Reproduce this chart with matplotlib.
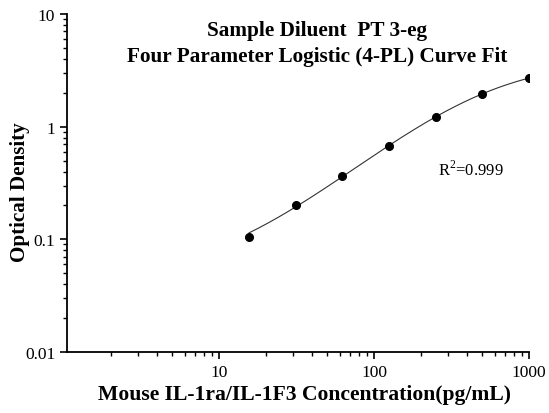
import numpy as np
import matplotlib
matplotlib.use("Agg")
import matplotlib.pyplot as plt
from matplotlib.ticker import LogLocator, FixedLocator, FixedFormatter, NullFormatter

conc = [15.625, 31.25, 62.5, 125, 250, 500, 1000]
od = [0.105, 0.203, 0.366, 0.675, 1.22, 1.96, 2.70]
title_lines = ["Sample Diluent  PT 3-eg", "Four Parameter Logistic (4-PL) Curve Fit"]
r2_text = "R$^2$=0.999"
xlabel = "Mouse IL-1ra/IL-1F3 Concentration(pg/mL)"
ylabel = "Optical Density"

x = np.array(conc, float)
y = np.array(od, float)

def f4(p, xx):
    a, b, c, d = p
    return d + (a - d) / (1.0 + (xx / c) ** b)

# Levenberg-Marquardt fit of the 4PL model to the data points
p = np.array([0.02, 1.0, 400.0, 5.0])
lam = 1e-3
for _ in range(500):
    r = y - f4(p, x)
    J = np.zeros((len(x), 4))
    for k in range(4):
        dp = np.zeros(4); dp[k] = 1e-6 * max(abs(p[k]), 1e-3)
        J[:, k] = (f4(p + dp, x) - f4(p, x)) / dp[k]
    A = J.T @ J
    g = J.T @ r
    step = np.linalg.solve(A + lam * np.diag(np.diag(A)), g)
    pn = p + step
    if np.all(np.isfinite(pn)) and pn[2] > 0 and np.sum((y - f4(pn, x))**2) < np.sum(r**2):
        p = pn; lam *= 0.3
    else:
        lam *= 10

xs = np.logspace(np.log10(x.min()), np.log10(x.max()), 300)
ys = f4(p, xs)

plt.rcParams['font.family'] = ['Liberation Serif', 'DejaVu Serif']
plt.rcParams['mathtext.fontset'] = 'custom'
plt.rcParams['mathtext.rm'] = 'Liberation Serif'

W, H = 549, 414
fig = plt.figure(figsize=(W/100, H/100), dpi=100)
ax = fig.add_axes([67/W, 1 - 353/H, (529-67)/W, (353-15)/H])
ax.set_xscale('log'); ax.set_yscale('log')
ax.set_xlim(1.045, 1000)
ax.set_ylim(0.01, 10)
ax.plot(xs, ys, color='#333333', lw=0.8)
ax.plot(x, y, 'o', color='black', ms=5.5)

for s in ['top', 'right']:
    ax.spines[s].set_visible(False)
for s in ['left', 'bottom']:
    ax.spines[s].set_linewidth(1.3)

ax.xaxis.set_major_locator(FixedLocator([10, 100, 1000]))
ax.xaxis.set_major_formatter(FixedFormatter(['10', '100', '1000']))
ax.xaxis.set_minor_locator(LogLocator(base=10, subs=np.arange(2, 10)))
ax.xaxis.set_minor_formatter(NullFormatter())
ax.yaxis.set_major_locator(FixedLocator([0.01, 0.1, 1, 10]))
ax.yaxis.set_major_formatter(FixedFormatter(['0.01', '0.1', '1', '10']))
ax.yaxis.set_minor_locator(LogLocator(base=10, subs=np.arange(2, 10)))
ax.yaxis.set_minor_formatter(NullFormatter())
ax.tick_params(which='major', direction='out', length=5, width=1.2, labelsize=12.5)
ax.tick_params(which='minor', direction='out', length=3, width=1.0)

fig.text(317/W, 1 - 31/H, title_lines[0], ha='center', va='center',
         fontsize=15.3, fontweight='bold')
fig.text(317/W, 1 - 57/H, title_lines[1], ha='center', va='center',
         fontsize=15.3, fontweight='bold')
fig.text(438/W, 1 - 170/H, r2_text, fontsize=12, ha='left', va='center')

fig.text(304/W, 1 - 395/H, xlabel, fontsize=15.6, fontweight='bold', ha='center', va='center')
fig.text(20/W, 1 - 192/H, ylabel, fontsize=15.2, fontweight='bold', ha='center', va='center',
         rotation=90)

fig.savefig('out.png', dpi=100)
